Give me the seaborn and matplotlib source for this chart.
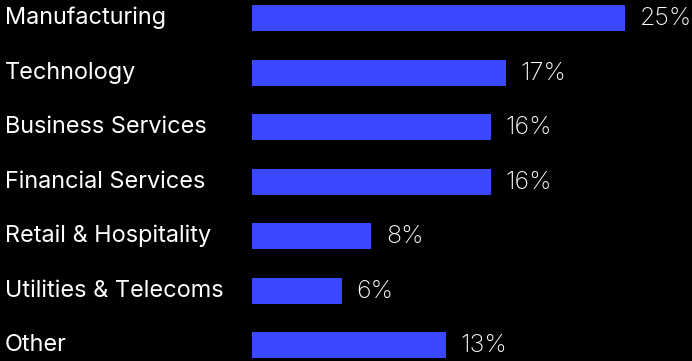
import matplotlib
matplotlib.use("Agg")
import matplotlib.pyplot as plt
import matplotlib.transforms as mtransforms
import seaborn as sns
import pandas as pd

categories = ["Manufacturing", "Technology", "Business Services", "Financial Services",
              "Retail & Hospitality", "Utilities & Telecoms", "Other"]
values = [25, 17, 16, 16, 8, 6, 13]
value_labels = ["25%", "17%", "16%", "16%", "8%", "6%", "13%"]

df = pd.DataFrame({"category": categories, "value": values})

sns.set_theme(style="white")
plt.rcParams["font.family"] = ["Inter", "DejaVu Sans"]

W, H = 692, 361
fig = plt.figure(figsize=(W / 100, H / 100), dpi=100, facecolor="black")
ax = fig.add_axes([252 / W, 0, 1 - 252 / W, 1])
ax.set_facecolor("black")

sns.barplot(data=df, x="value", y="category", orient="h", color="#3A48FF",
            saturation=1, width=0.477, linewidth=0, edgecolor="none", ax=ax)

ax.set_xlim(0, 440 / 14.92)
ax.set_ylim(6.29, -0.33)
ax.set_xlabel("")
ax.set_ylabel("")
ax.set_xticks([])
ax.set_yticks([])
for s in ax.spines.values():
    s.set_visible(False)

trans = mtransforms.blended_transform_factory(fig.transFigure, ax.transData)
for i, (c, v, lab) in enumerate(zip(categories, values, value_labels)):
    ax.text(5 / W, i, c, transform=trans, ha="left", va="center",
            color="white", fontsize=16.9, fontweight="normal")
    ax.annotate(lab, (v, i), xytext=(10.5, -0.5), textcoords="offset points",
                ha="left", va="center", color="white", fontsize=18,
                fontweight="light")

fig.savefig("out.png", dpi=100, facecolor="black")
